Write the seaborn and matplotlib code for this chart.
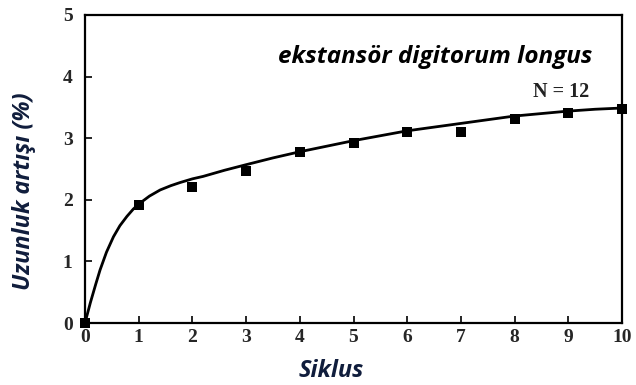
import matplotlib
matplotlib.use("Agg")
import matplotlib.pyplot as plt
import seaborn as sns
import pandas as pd

# Measured data points
cycles = [0, 1, 2, 3, 4, 5, 6, 7, 8, 9, 10]
elongation = [0.0, 1.92, 2.21, 2.46, 2.78, 2.93, 3.10, 3.10, 3.31, 3.41, 3.47]

# Fitted curve
curve_x = [0, 0.1, 0.2, 0.28, 0.4, 0.53, 0.65, 0.78, 0.9, 1.0, 1.2, 1.4, 1.6, 1.77, 2.0, 2.2, 2.6, 3.0, 3.5, 4.0, 4.5, 5.0, 5.5, 6.0, 6.5, 7.0, 7.5, 8.0, 8.5, 9.0, 9.5, 10.0]
curve_y = [0, 0.33, 0.63, 0.86, 1.15, 1.40, 1.58, 1.73, 1.85, 1.93, 2.06, 2.16, 2.23, 2.28, 2.34, 2.38, 2.48, 2.57, 2.68, 2.78, 2.87, 2.96, 3.04, 3.12, 3.18, 3.24, 3.30, 3.36, 3.40, 3.44, 3.47, 3.49]

x_ticks = [0, 1, 2, 3, 4, 5, 6, 7, 8, 9, 10]
y_ticks = [0, 1, 2, 3, 4, 5]
title_text = "ekstansör digitorum longus"
n_text = "N = 12"
x_label = "Siklus"
y_label = "Uzunluk artışı (%)"

sns.set_style("white")
plt.rcParams['font.family'] = ['Liberation Serif', 'DejaVu Serif']

fig = plt.figure(figsize=(6.36, 3.85), dpi=100)
ax = fig.add_axes([85/636, 1-323/385, 537/636, 308/385])

pts = pd.DataFrame({"x": cycles, "y": elongation})
crv = pd.DataFrame({"x": curve_x, "y": curve_y})

sns.lineplot(data=crv, x="x", y="y", ax=ax, color="black", linewidth=2.0, clip_on=False)
sns.scatterplot(data=pts, x="x", y="y", ax=ax, marker="s", s=55, color="black",
                edgecolor="black", linewidth=0, clip_on=False, zorder=5)

ax.set_xlim(0, 10)
ax.set_ylim(0, 5)
ax.set_xticks(x_ticks)
ax.set_yticks(y_ticks)
ax.set_xticklabels([str(t) for t in x_ticks], fontsize=14, fontweight="bold")
ax.set_yticklabels([str(t) for t in y_ticks], fontsize=14, fontweight="bold")
ax.tick_params(axis="both", direction="in", length=5, width=1.2, color="black",
               bottom=True, left=True, top=False, right=False)
ax.tick_params(axis="y", pad=9)
ax.tick_params(axis="x", pad=4)

for sp in ax.spines.values():
    sp.set_visible(True)
    sp.set_color("black")
    sp.set_linewidth(1.6)

lab_color = "#101d3c"
ax.set_xlabel(x_label, fontsize=17, fontweight="bold", style="italic",
              family=["Open Sans", "DejaVu Sans"], color=lab_color)
ax.set_ylabel(y_label, fontsize=17, fontweight="bold", style="italic",
              family=["Open Sans", "DejaVu Sans"], color=lab_color)
ax.xaxis.set_label_coords((331-85)/537, -(359-323)/308)
ax.yaxis.set_label_coords((36-85)/537, (323-191)/308)

ax.text((435-85)/537, (323-57)/308, title_text, transform=ax.transAxes,
        ha="center", va="center", fontsize=17.5, fontweight="bold", style="italic",
        family=["Open Sans", "DejaVu Sans"], color="black")
ax.text((589-85)/537, (323-92)/308, n_text, transform=ax.transAxes,
        ha="right", va="center", fontsize=14.5, fontweight="bold", color="#222222")

ax.grid(False)
fig.savefig("out.png", dpi=100, facecolor="white")
